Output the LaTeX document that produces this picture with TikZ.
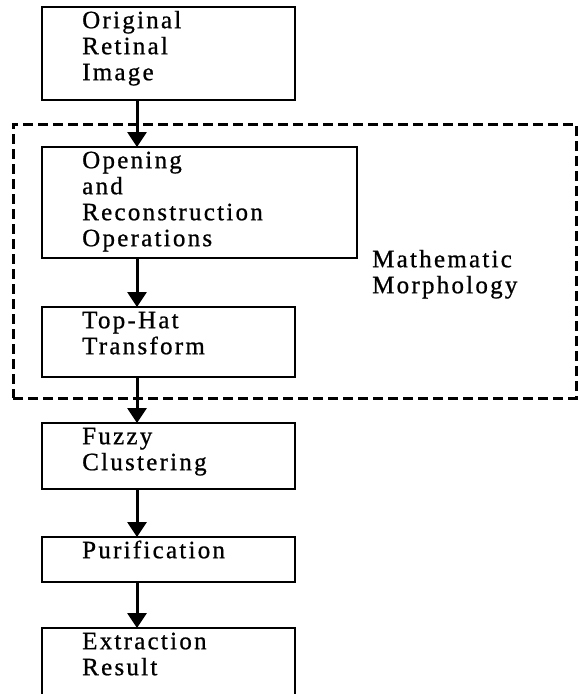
\documentclass[tikz,border=0pt]{standalone}
\usepackage{fontspec}
\setmainfont{Liberation Serif}[LetterSpace=9, FakeBold=0.8]
\usetikzlibrary{arrows.meta}

\begin{document}
\begin{tikzpicture}[x=1pt,y=-1pt,
  stage/.style={draw=black, line width=2pt, inner sep=0pt, outer sep=0pt,
                anchor=north west, minimum width=253pt},
  label/.style={anchor=north west, inner sep=0pt, align=left,
                font=\fontsize{25}{26}\selectfont},
  group/.style={draw=black, line width=3pt, dash pattern=on 10pt off 5pt,
                inner sep=0pt, outer sep=0pt, anchor=north west},
  flow/.style={line width=3pt, -{Triangle[width=19pt,length=15pt]}}]

% canvas
\useasboundingbox (0,0) rectangle (579,694);
\clip (0,0) rectangle (579,694);
\fill[white] (0,0) rectangle (579,694);

% column of the arrows
\coordinate (ax) at (137,0);

% dashed group: mathematical morphology
\node[group, minimum width=563pt, minimum height=274pt] (mm) at (13,124) {};
\node[label] (mmtext) at (372,249)
  {\rule{0pt}{18pt}Mathematic\\Morphology};

% processing stages
\node[stage, minimum height=93pt] (s1) at (42,7) {};
\node[stage, minimum width=315pt, minimum height=111pt] (s2) at (42,147) {};
\node[stage, minimum height=70pt] (s3) at (42,307) {};
\node[stage, minimum height=66pt] (s4) at (42,423) {};
\node[stage, minimum height=45pt] (s5) at (42,537) {};
\node[stage, minimum height=112pt] (s6) at (42,628) {};

% stage texts
\node[label] (t1) at (82,10)  {\rule{0pt}{18pt}Original\\Retinal\\Image};
\node[label] (t2) at (82,150) {\rule{0pt}{18pt}Opening\\and\\Reconstruction\\Operations};
\node[label] (t3) at (82,310) {\rule{0pt}{18pt}Top-Hat\\Transform};
\node[label] (t4) at (82,426) {\rule{0pt}{18pt}Fuzzy\\Clustering};
\node[label] (t5) at (82,540) {\rule{0pt}{18pt}Purification};
\node[label] (t6) at (82,631) {\rule{0pt}{18pt}Extraction\\Result};

% connectors
\draw[flow] (s1.south -| ax) -- (s2.north -| ax);
\draw[flow] (s2.south -| ax) -- (s3.north -| ax);
\draw[flow] (s3.south -| ax) -- (s4.north -| ax);
\draw[flow] (s4.south -| ax) -- (s5.north -| ax);
\draw[flow] (s5.south -| ax) -- (s6.north -| ax);
\end{tikzpicture}
\end{document}
